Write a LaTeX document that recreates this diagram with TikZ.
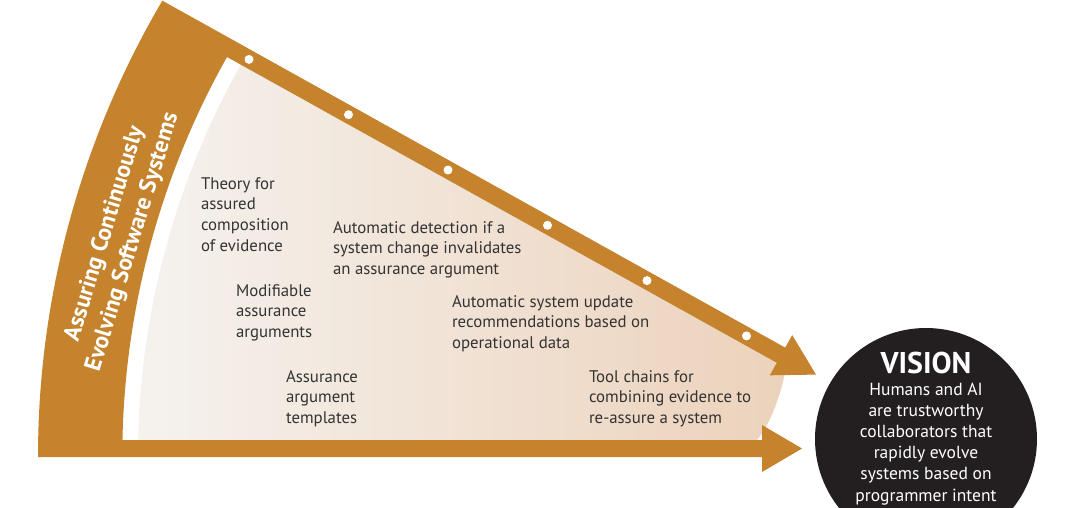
\documentclass[tikz,border=0pt]{standalone}
\usepackage{fontspec}
\setmainfont{PT Sans}
\usetikzlibrary{arrows.meta, calc}
\definecolor{fanbrown}{RGB}{196,131,44}
\definecolor{fanlight}{RGB}{245,242,238}
\definecolor{fanpeach}{RGB}{236,210,187}
\definecolor{fantext}{RGB}{51,51,51}
\definecolor{visionblack}{RGB}{35,31,32}

\begin{document}
\begin{tikzpicture}[x=1pt, y=-1pt, every node/.style={inner sep=0pt, outer sep=0pt},
  milestone/.style={font=\fontsize{16.8}{20.8}\selectfont, text=fantext, align=left, anchor=base west},
  visiontext/.style={font=\fontsize{17.5}{21.2}\selectfont, text=white, align=center, anchor=base}]
  \useasboundingbox (0,0) rectangle (1080,507);
  \clip (0,0) rectangle (1080,507);
  % inner fan
  \shade[left color=fanlight, right color=fanpeach]
    (138.2,440) arc[start angle=181.22, end angle=209.38, radius=800]
    -- (786,368) .. controls (781,395) and (770,425) .. (757,440) -- cycle;
  % frame with the two arrows
  \fill[fanbrown] (38,457) arc[start angle=180, end angle=210.47, radius=900]
    -- (785.2,347.6) -- (792.2,335.1) -- (816,374.6) -- (769.8,375.3) -- (776.8,362.8)
    -- (227,57) arc[start angle=209.36, end angle=181.15, radius=815]
    -- (762,440) -- (762,425) -- (802,448.5) -- (762,472) -- (762,457) -- cycle;
  \foreach \k in {0,...,5}
    \fill[white] (249+99.5*\k, 59.4+55.3*\k) circle[radius=4.5];
  \node[rotate=73, font=\bfseries\fontsize{23.5}{29}\selectfont, text=white, align=center]
    (fanlabel) at (119,238) {Assuring Continuously\\Evolving Software Systems};
  % texts sit on the baseline of their last line
  \node[milestone] (theory) at (201,251.4) {Theory for\\assured\\composition\\of evidence};
  \node[milestone] (detect) at (333,274.6) {Automatic detection if a\\system change invalidates\\an assurance argument};
  \node[milestone] (modify) at (236,337.6) {Modifiable\\assurance\\arguments};
  \node[milestone] (update) at (452,348.6) {Automatic system update\\recommendations based on\\operational data};
  \node[milestone] (templates) at (286,423.6) {Assurance\\argument\\templates};
  \node[milestone] (toolchain) at (589,423.6) {Tool chains for\\combining evidence to\\re-assure a system};
  % vision
  \node[circle, fill=visionblack, minimum size=222pt] (vision) at (926,439) {};
  \node[font=\bfseries\fontsize{30}{31}\selectfont, text=white, anchor=base] (visiontitle) at (926,373) {VISION};
  \node[visiontext] (visionbody) at (926,501) {Humans and AI\\are trustworthy\\collaborators that\\rapidly evolve\\systems based on\\programmer intent};
\end{tikzpicture}
\end{document}
